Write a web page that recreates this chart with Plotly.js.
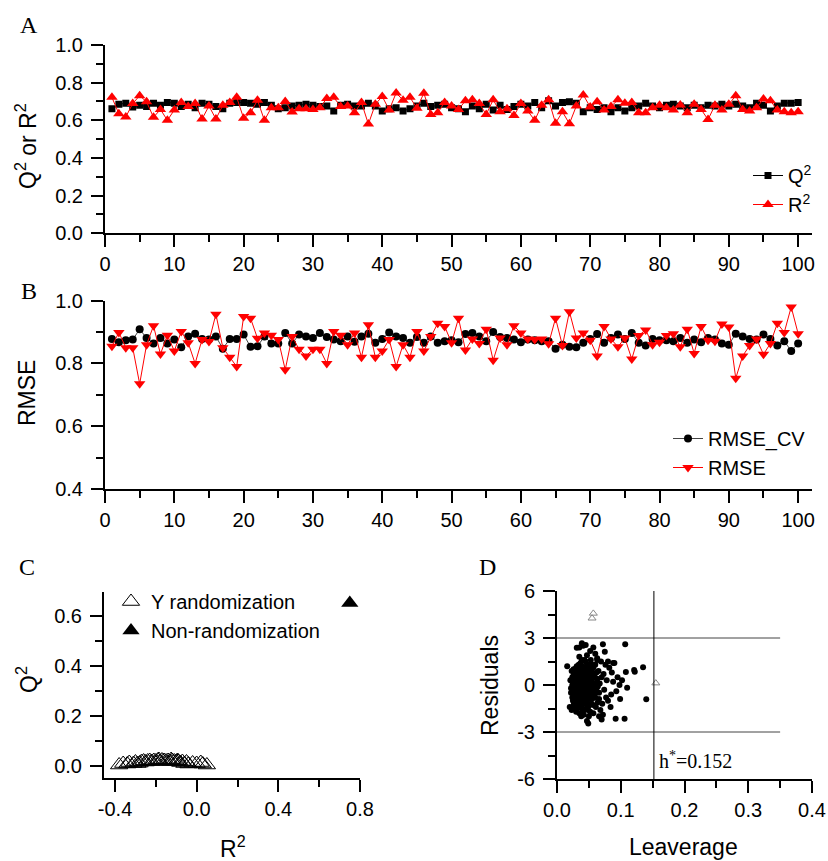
<!DOCTYPE html>
<html>
<head>
<meta charset="utf-8">
<script src="https://cdn.plot.ly/plotly-3.0.1.min.js"></script>
<style>html,body{margin:0;padding:0;background:#fff;}#chart{width:828px;height:861px;}</style>
</head>
<body>
<div id="chart"></div>
<script>
// ---------- Panel A / B : run index ----------
const runIndex = [1,2,3,4,5,6,7,8,9,10,11,12,13,14,15,16,17,18,19,20,21,22,23,24,25,26,27,28,29,30,31,32,33,34,35,36,37,38,39,40,41,42,43,44,45,46,47,48,49,50,51,52,53,54,55,56,57,58,59,60,61,62,63,64,65,66,67,68,69,70,71,72,73,74,75,76,77,78,79,80,81,82,83,84,85,86,87,88,89,90,91,92,93,94,95,96,97,98,99,100];

// Panel A
const q2Values = [0.662,0.685,0.691,0.671,0.680,0.673,0.691,0.680,0.695,0.691,0.673,0.685,0.667,0.691,0.685,0.673,0.662,0.691,0.695,0.695,0.691,0.685,0.695,0.680,0.662,0.667,0.676,0.680,0.685,0.680,0.673,0.676,0.649,0.680,0.685,0.676,0.676,0.691,0.676,0.649,0.662,0.667,0.649,0.662,0.676,0.691,0.673,0.680,0.685,0.667,0.662,
0.645,0.676,0.662,0.685,0.655,0.680,0.658,0.673,0.685,0.676,0.695,0.667,0.704,0.676,0.695,0.698,0.691,0.645,0.667,0.658,0.667,0.645,0.667,0.649,0.667,0.676,0.691,0.676,0.667,0.680,0.685,0.676,0.667,0.680,0.667,0.680,0.676,0.685,0.676,0.685,0.676,0.667,0.691,0.680,0.649,0.676,0.691,0.691,0.695];
const r2Values = [0.722,0.635,0.618,0.689,0.731,0.698,0.616,0.658,0.600,0.655,0.695,0.673,0.689,0.607,0.676,0.607,0.680,0.695,0.722,0.611,0.640,0.707,0.600,0.667,0.667,0.700,0.644,0.662,0.662,0.658,0.667,0.716,0.722,0.673,0.676,0.640,0.695,0.580,0.685,0.727,0.655,0.745,0.707,0.722,0.664,0.744,0.631,0.640,0.695,0.676,0.658,
0.704,0.709,0.689,0.631,0.709,0.645,0.662,0.625,0.689,0.649,0.600,0.680,0.709,0.585,0.645,0.582,0.676,0.735,0.671,0.698,0.655,0.673,0.709,0.691,0.695,0.640,0.640,0.667,0.680,0.667,0.655,0.682,0.640,0.685,0.658,0.604,0.680,0.655,0.685,0.731,0.658,0.649,0.667,0.713,0.704,0.655,0.645,0.640,0.645];

// Panel B
const rmseCV = [0.878,0.868,0.874,0.876,0.909,0.881,0.864,0.881,0.864,0.876,0.852,0.886,0.895,0.878,0.876,0.886,0.847,0.878,0.878,0.892,0.853,0.855,0.886,0.864,0.864,0.897,0.864,0.892,0.886,0.881,0.897,0.884,0.876,0.871,0.886,0.869,0.886,0.895,0.866,0.878,0.899,0.886,0.881,0.866,0.884,0.866,0.886,0.866,0.871,0.874,0.868,
0.894,0.897,0.886,0.871,0.900,0.884,0.881,0.876,0.868,0.876,0.874,0.871,0.871,0.847,0.860,0.853,0.852,0.866,0.878,0.894,0.866,0.881,0.892,0.878,0.897,0.866,0.857,0.878,0.874,0.874,0.871,0.881,0.866,0.876,0.868,0.881,0.876,0.864,0.860,0.895,0.886,0.878,0.876,0.892,0.878,0.857,0.871,0.840,0.864];
const rmseFit = [0.855,0.899,0.850,0.850,0.735,0.860,0.920,0.830,0.890,0.840,0.902,0.866,0.800,0.876,0.870,0.957,0.850,0.820,0.790,0.950,0.944,0.880,0.897,0.890,0.876,0.780,0.886,0.845,0.824,0.845,0.845,0.800,0.902,0.890,0.860,0.897,0.820,0.923,0.820,0.840,0.876,0.790,0.860,0.820,0.902,0.840,0.886,0.928,0.918,0.866,0.944,
0.843,0.878,0.864,0.909,0.810,0.881,0.860,0.920,0.897,0.878,0.876,0.878,0.863,0.944,0.857,0.965,0.881,0.897,0.874,0.824,0.918,0.878,0.853,0.881,0.814,0.889,0.907,0.860,0.868,0.889,0.895,0.853,0.909,0.832,0.918,0.874,0.871,0.926,0.916,0.753,0.824,0.857,0.878,0.829,0.864,0.928,0.899,0.980,0.895];

// Panel C
const yRandR2 = [-0.38,-0.36,-0.34,-0.33,-0.31,-0.30,-0.28,-0.27,-0.26,-0.25,-0.24,-0.23,-0.22,-0.21,-0.20,-0.19,-0.18,-0.17,-0.16,-0.15,-0.14,-0.13,-0.12,-0.11,-0.10,-0.09,-0.08,-0.07,-0.06,-0.05,-0.04,-0.02,0.00,0.02,0.03,0.05,-0.29,-0.185,-0.125,-0.095];
const yRandQ2 = [0.004,0.010,0.008,0.014,0.010,0.016,0.012,0.018,0.020,0.016,0.020,0.022,0.018,0.022,0.020,0.024,0.018,0.024,0.022,0.020,0.022,0.018,0.022,0.020,0.018,0.020,0.014,0.018,0.010,0.016,0.008,0.012,0.010,0.014,0.008,0.004,0.010,0.026,0.026,0.022];
const nonRandR2 = [0.75];
const nonRandQ2 = [0.652];

// Panel D
const leverageD = [
0.030,0.034,0.041,0.027,0.045,0.038,0.052,0.029,0.036,0.048,
0.025,0.033,0.044,0.057,0.031,0.039,0.047,0.026,0.035,0.042,
0.050,0.028,0.037,0.046,0.054,0.032,0.040,0.061,0.024,0.043,
0.058,0.030,0.036,0.049,0.034,0.027,0.041,0.055,0.063,0.045,
0.032,0.039,0.051,0.029,0.044,0.037,0.066,0.053,0.035,0.042,
0.070,0.060,0.028,0.047,0.033,0.038,0.057,0.046,0.024,0.052,
0.074,0.065,0.031,0.040,0.049,0.035,0.043,0.068,0.026,0.056,
0.078,0.082,0.071,0.062,0.039,0.030,0.048,0.036,0.053,0.041,
0.085,0.088,0.076,0.067,0.059,0.034,0.045,0.029,0.050,0.022,
0.090,0.095,0.080,0.072,0.064,0.037,0.044,0.055,0.032,0.027,
0.098,0.093,0.086,0.077,0.069,0.061,0.058,0.051,0.046,0.040,
0.102,0.099,0.084,0.073,0.066,0.063,0.054,0.047,0.038,0.033,
0.030,0.035,0.042,0.048,0.056,0.044,0.039,0.031,0.028,0.036,
0.052,0.058,0.062,0.043,0.037,0.034,0.045,0.050,0.041,0.029,
0.060,0.054,0.047,0.040,0.033,0.026,0.035,0.049,0.057,0.064,
0.016,0.023,0.049,0.047,0.031,0.039,0.045,0.052,0.043,0.063,
0.072,0.075,0.107,0.140,0.092,0.106,0.135,0.121,0.122,0.108,
0.110,0.070,0.066,0.080,0.088,0.060,0.057,0.035,0.041,0.020,
0.021,0.022,0.023,0.025,0.024,0.026,0.028,0.030,0.032,0.034,
0.036,0.038,0.040,0.042,0.044,0.046,0.048,0.050,0.052,0.054,
0.027,0.031,0.035,0.039,0.043,0.047,0.051,0.029,0.033,0.037,
0.041,0.045,0.049,0.053,0.028,0.032,0.036,0.040,0.044,0.048,
0.026,0.030,0.034,0.038,0.042,0.046,0.050,0.055,0.059,0.063,
0.031,0.035,0.039,0.043,0.047,0.051,0.027,0.033,0.037,0.045];
const residualsD = [
0.2,-0.5,0.8,-1.1,-0.2,0.5,-0.9,0.1,-1.4,0.3,
-0.3,1.0,-0.7,0.6,-0.8,-0.1,1.2,0.6,0.3,-1.2,
-0.4,-0.6,1.4,0.0,0.9,-0.2,-1.7,-0.5,0.0,0.6,
-1.3,0.9,-0.9,-1.6,0.4,-1.5,0.1,0.2,0.4,1.5,
-1.0,0.7,1.0,-0.4,-1.0,-0.6,-0.9,-0.1,1.1,0.2,
0.5,1.3,0.4,-0.5,-1.3,0.0,-1.8,0.8,-0.8,0.4,
-0.3,0.9,1.2,-0.3,0.6,-1.8,-0.8,-1.6,-1.3,-0.7,
0.3,1.1,-1.2,-0.2,1.6,-0.1,-1.3,0.8,1.6,-0.5,
-0.6,0.2,1.3,0.1,0.7,-0.6,0.5,0.7,-2.0,-0.5,
1.4,0.5,-1.0,-1.9,-1.1,-1.1,1.1,1.3,0.6,0.3,
0.0,-0.4,0.8,-0.8,1.5,-1.4,0.0,0.2,-1.5,0.4,
0.3,-0.9,-1.4,0.7,-0.5,1.7,-1.2,1.9,-2.0,-0.5,
-1.7,1.8,-1.9,0.9,-0.3,-0.3,-0.4,0.5,-0.9,0.1,
-1.7,0.5,0.8,-1.6,0.9,-0.1,-0.9,1.3,-1.1,-0.2,
-0.8,0.1,0.3,1.2,0.2,-0.6,-0.7,-0.1,1.1,-0.1,
1.19,-1.6,-2.45,-2.3,2.38,2.66,2.55,2.17,1.6,1.6,
2.6,2.13,2.6,-0.91,-2.15,-2.15,1.13,0.96,0.85,0.83,
-0.17,-2.2,-2.0,1.5,1.4,2.0,2.4,2.4,2.5,-1.4,
0.3,-0.2,0.9,-1.0,0.5,1.0,-1.2,1.1,-1.5,1.3,
-0.3,-1.4,0.0,0.9,0.4,-0.6,0.0,-0.7,0.7,-0.5,
0.5,-0.3,-0.2,0.3,-0.4,-0.2,0.5,-0.7,0.7,-0.8,
0.6,0.9,-0.8,-0.3,0.0,0.2,0.5,-0.8,0.0,0.4,
-0.1,-0.5,-1.1,1.0,-0.1,1.1,0.1,-0.9,-0.4,0.2,
-1.1,0.6,-0.9,0.3,-1.1,-1.3,0.8,-0.3,-0.5,0.2];
const outLeverageD = [0.055,0.057,0.155];
const outResidualsD = [4.26,4.57,0.12];
const hStar = 0.152;
const residLimit = 3;

// ---------- helpers ----------
const W = 828, H = 861;
const px = v => v / W;
const py = v => 1 - v / H;
const SANS = 'Liberation Sans, Arial, sans-serif';
const SERIF = 'Liberation Serif, Times New Roman, serif';

function axis(extra) {
  return Object.assign({
    showline: true, linecolor: 'black', linewidth: 2,
    ticks: 'outside', ticklen: 12, tickwidth: 2, tickcolor: 'black',
    showgrid: false, zeroline: false, fixedrange: true,
    tickfont: {family: SANS, size: 20, color: 'black'},
  }, extra);
}
function minor(d) {
  return {dtick: d, ticks: 'outside', ticklen: 7, tickwidth: 2, tickcolor: 'black', showgrid: false};
}

const traces = [
  {x: runIndex, y: q2Values, xaxis: 'x', yaxis: 'y', mode: 'lines+markers', name: 'Q<sup>2</sup>',
   line: {color: 'black', width: 1}, marker: {symbol: 'square', size: 7, color: 'black'}, legend: 'legend'},
  {x: runIndex, y: r2Values, xaxis: 'x', yaxis: 'y', mode: 'lines+markers', name: 'R<sup>2</sup>',
   line: {color: '#ff0000', width: 1}, marker: {symbol: 'triangle-up', size: 10, color: '#ff0000'}, legend: 'legend'},
  {x: runIndex, y: rmseCV, xaxis: 'x2', yaxis: 'y2', mode: 'lines+markers', name: 'RMSE_CV',
   line: {color: '#444', width: 1}, marker: {symbol: 'circle', size: 8, color: 'black'}, legend: 'legend2'},
  {x: runIndex, y: rmseFit, xaxis: 'x2', yaxis: 'y2', mode: 'lines+markers', name: 'RMSE',
   line: {color: '#ff0000', width: 1}, marker: {symbol: 'triangle-down', size: 10, color: '#ff0000'}, legend: 'legend2'},
  {x: yRandR2, y: yRandQ2, xaxis: 'x3', yaxis: 'y3', mode: 'markers', name: 'Y randomization',
   marker: {symbol: 'triangle-up-open', size: 15, color: 'black', line: {width: 1, color: 'black'}}, legend: 'legend3'},
  {x: nonRandR2, y: nonRandQ2, xaxis: 'x3', yaxis: 'y3', mode: 'markers', name: 'Non-randomization',
   marker: {symbol: 'triangle-up', size: 15, color: 'black'}, legend: 'legend3'},
  {x: leverageD, y: residualsD, xaxis: 'x4', yaxis: 'y4', mode: 'markers', showlegend: false,
   marker: {symbol: 'circle', size: 6, color: 'black'}},
  {x: outLeverageD, y: outResidualsD, xaxis: 'x4', yaxis: 'y4', mode: 'markers', showlegend: false,
   marker: {symbol: 'triangle-up-open', size: 7, color: '#888', line: {width: 1, color: '#888'}}},
];

const legendBase = {bgcolor: 'rgba(0,0,0,0)', borderwidth: 0, xanchor: 'left', yanchor: 'top',
  font: {family: SANS, size: 20, color: 'black'}, tracegroupgap: 0};

function label(text, x, y, size, family, angle) {
  return {text: text, x: px(x), y: py(y), xref: 'paper', yref: 'paper', xanchor: 'center', yanchor: 'middle',
    showarrow: false, textangle: angle || 0, font: {family: family, size: size, color: 'black'}};
}

const layout = {
  width: W, height: H, margin: {l: 0, r: 0, t: 0, b: 0},
  paper_bgcolor: 'white', plot_bgcolor: 'white', hovermode: false,
  font: {family: SANS, size: 20, color: 'black'},
  xaxis: axis({domain: [px(105), px(812)], range: [0, 102], anchor: 'y', tick0: 0, dtick: 10, minor: minor(5)}),
  yaxis: axis({domain: [py(233.3), py(45)], range: [0, 1], anchor: 'x', tick0: 0, dtick: 0.2, tickformat: '.1f', minor: minor(0.1), ticklabelstandoff: 4}),
  xaxis2: axis({domain: [px(105), px(812)], range: [0, 102], anchor: 'y2', tick0: 0, dtick: 10, minor: minor(5)}),
  yaxis2: axis({domain: [py(489), py(300.7)], range: [0.4, 1.0], anchor: 'x2', tick0: 0.4, dtick: 0.2, tickformat: '.1f', minor: minor(0.1), ticklabelstandoff: 4}),
  xaxis3: axis({domain: [px(104), px(360)], range: [-0.454, 0.8], anchor: 'y3', tickmode: 'array',
    tickvals: [-0.4, 0, 0.4, 0.8], ticktext: ['-0.4', '0.0', '0.4', '0.8'], minor: Object.assign(minor(0.2), {tick0: 0})}),
  yaxis3: axis({domain: [py(778), py(592)], range: [-0.048, 0.696], anchor: 'x3', tick0: 0, dtick: 0.2, tickformat: '.1f', minor: minor(0.1), ticklabelstandoff: 4}),
  xaxis4: axis({domain: [px(557), px(812)], range: [0, 0.4], anchor: 'y4', tick0: 0, dtick: 0.1, tickformat: '.1f', minor: minor(0.05)}),
  yaxis4: axis({domain: [py(779), py(591)], range: [-6, 6], anchor: 'x4', tickmode: 'array',
    tickvals: [-6, -3, 0, 3, 6], ticktext: ['-6', '-3', '0', '3', '6'], minor: Object.assign(minor(1.5), {tick0: 0}), ticklabelstandoff: 4}),
  legend: Object.assign({}, legendBase, {x: px(748), y: py(156)}),
  legend2: Object.assign({}, legendBase, {x: px(668), y: py(419)}),
  legend3: Object.assign({}, legendBase, {x: px(111), y: py(582)}),
  shapes: [
    {type: 'line', xref: 'x4', yref: 'y4', x0: 0, x1: 0.35, y0: residLimit, y1: residLimit, line: {color: '#444', width: 1}},
    {type: 'line', xref: 'x4', yref: 'y4', x0: 0, x1: 0.35, y0: -residLimit, y1: -residLimit, line: {color: '#444', width: 1}},
    {type: 'line', xref: 'x4', yref: 'y4', x0: hStar, x1: hStar, y0: -6, y1: 6, line: {color: 'black', width: 1}},
  ],
  annotations: [
    label('A', 29, 25, 24, SERIF),
    label('B', 29, 291, 24, SERIF),
    label('C', 27, 567, 24, SERIF),
    label('D', 488, 567, 24, SERIF),
    label('Q<sup>2</sup> or R<sup>2</sup>', 26, 146, 23, SANS, -90),
    label('RMSE', 27, 393, 23, SANS, -90),
    label('Q<sup>2</sup>', 27, 680, 23, SANS, -90),
    label('R<sup>2</sup>', 233, 847, 23, SANS),
    label('Residuals', 490, 685, 23, SANS, -90),
    label('Leaverage', 683, 847, 23, SANS),
    {text: 'h<sup>*</sup>=0.152', x: 0.157, y: -4.8, xref: 'x4', yref: 'y4', xanchor: 'left', yanchor: 'middle', showarrow: false, font: {family: SERIF, size: 20, color: 'black'}},
  ],
};

Plotly.newPlot('chart', traces, layout, {staticPlot: true, displayModeBar: false});
</script>
</body>
</html>
